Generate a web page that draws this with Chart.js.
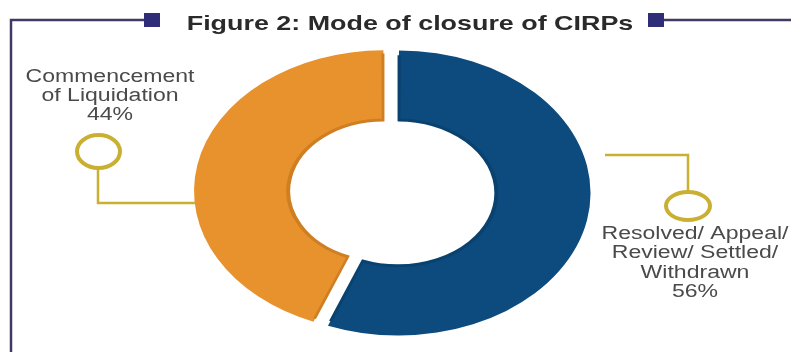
<!DOCTYPE html>
<html><head><meta charset="utf-8">
<script src="https://cdn.jsdelivr.net/npm/chart.js@4/dist/chart.umd.min.js"></script>
<style>html,body{margin:0;padding:0;background:#fff;overflow:hidden}#wrap{width:791px;height:352px;position:relative}</style>
</head><body><div id="wrap"><canvas id="c" width="791" height="352"></canvas></div>
<script>
const titleText = 'Figure 2: Mode of closure of CIRPs';
const categories = ['Resolved/ Appeal/ Review/ Settled/ Withdrawn', 'Commencement of Liquidation'];
const labelLines = [['Resolved/ Appeal/', 'Review/ Settled/', 'Withdrawn'], ['Commencement', 'of Liquidation']];
const values = [56, 44];
const colors = ['#0d4b7e', '#e8922d'];
const borderColors = ['#0a426f', '#cf7e22'];

const SX = 1.28;          // horizontal stretch of the original figure text
const K = 0.74;           // vertical squash of the doughnut (ellipse)
const FRAME = '#3d3a66', SQUARE = '#2f2c78', GOLD = '#c9b032', TEXT = '#4a4a4a';

function sText(ctx, txt, x, y) {
  ctx.save(); ctx.translate(x, y); ctx.scale(SX, 1); ctx.fillText(txt, 0, 0); ctx.restore();
}

const ellipse = {
  id: 'ellipse',
  beforeDatasetsDraw(chart) {
    const a = chart.getDatasetMeta(0).data[0];
    const ctx = chart.ctx;
    ctx.save(); ctx.translate(a.x, a.y); ctx.scale(1, K); ctx.translate(-a.x, -a.y);
  },
  afterDatasetsDraw(chart) { chart.ctx.restore(); }
};

const decor = {
  id: 'decor',
  afterDraw(chart) {
    const ctx = chart.ctx;
    ctx.save();
    // frame
    ctx.strokeStyle = FRAME; ctx.lineWidth = 2.5;
    ctx.beginPath(); ctx.moveTo(11, 353); ctx.lineTo(11, 20); ctx.lineTo(146, 20); ctx.stroke();
    ctx.beginPath(); ctx.moveTo(660, 20); ctx.lineTo(791, 20); ctx.stroke();
    ctx.fillStyle = SQUARE;
    ctx.fillRect(144, 13, 16, 14);
    ctx.fillRect(648, 13, 16, 14);
    // title
    ctx.fillStyle = '#2a2a2a'; ctx.textAlign = 'center'; ctx.textBaseline = 'alphabetic';
    ctx.font = 'bold 21px "Liberation Sans", Arial, sans-serif';
    sText(ctx, titleText, 410, 30);
    // callouts
    ctx.strokeStyle = GOLD; ctx.lineWidth = 2.5;
    ctx.beginPath(); ctx.moveTo(98, 168); ctx.lineTo(98, 203); ctx.lineTo(195, 203); ctx.stroke();
    ctx.beginPath(); ctx.moveTo(605, 155); ctx.lineTo(688, 155); ctx.lineTo(688, 192); ctx.stroke();
    ctx.lineWidth = 4;
    ctx.beginPath(); ctx.ellipse(98.5, 151.5, 21.5, 16.5, 0, 0, Math.PI * 2); ctx.stroke();
    ctx.beginPath(); ctx.ellipse(688, 206, 22, 14, 0, 0, Math.PI * 2); ctx.stroke();
    // labels
    ctx.fillStyle = TEXT; ctx.font = '18px "Liberation Sans", Arial, sans-serif';
    const left = labelLines[1].concat([values[1] + '%']);
    left.forEach((t, i) => sText(ctx, t, 110, 82 + i * 19));
    const right = labelLines[0].concat([values[0] + '%']);
    right.forEach((t, i) => sText(ctx, t, 695, 239 + i * 19.3));
    ctx.restore();
  }
};

new Chart(document.getElementById('c'), {
  type: 'doughnut',
  data: {
    labels: categories,
    datasets: [{
      data: values,
      backgroundColor: colors,
      borderColor: borderColors,
      borderWidth: 2,
      borderAlign: 'inner',
      offset: 28,
      hoverOffset: 28,
      clip: false
    }]
  },
  options: {
    responsive: false,
    animation: false,
    devicePixelRatio: 1,
    radius: 186,
    cutout: '49%',
    rotation: 0,
    layout: { padding: { left: 0, right: 9, top: 32, bottom: 0 } },
    plugins: { legend: { display: false }, tooltip: { enabled: false }, title: { display: false } },
    events: []
  },
  plugins: [ellipse, decor]
});
</script>
</body></html>
